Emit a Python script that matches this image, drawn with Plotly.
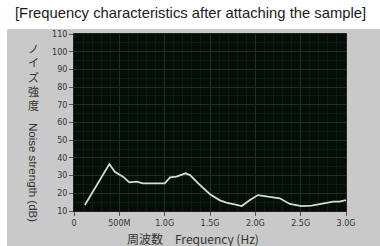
import plotly.graph_objects as go

freq_ghz = [0.12, 0.39, 0.45, 0.54, 0.61, 0.69, 0.76, 0.87, 1.00, 1.06, 1.13, 1.23, 1.28, 1.37,
            1.50, 1.61, 1.68, 1.77, 1.85, 1.94, 2.03, 2.14, 2.27, 2.38, 2.51, 2.62, 2.75, 2.86, 2.93, 3.00]
noise_db = [13.4, 36.5, 32.2, 29.4, 26.2, 26.6, 25.6, 25.6, 25.6, 29.0, 29.4, 31.3, 30.3, 25.6,
            19.5, 16.0, 14.7, 13.8, 12.8, 16.2, 19.0, 18.1, 17.2, 14.0, 12.8, 13.0, 14.3, 15.3, 15.3, 16.2]

x_tickvals = [0, 0.5, 1.0, 1.5, 2.0, 2.5, 3.0]
x_ticktext = ["0", "500M", "1.0G", "1.5G", "2.0G", "2.5G", "3.0G"]
y_tickvals = [10, 20, 30, 40, 50, 60, 70, 80, 90, 100, 110]

title_text = "[Frequency characteristics after attaching the sample]"
y_title_jp = ["ノ", "イ", "ズ", "強", "度"]
y_title_en = "Noise strength (dB)"
x_title = "周波数　Frequency (Hz)"

W, H = 380, 246
L, R, T, B = 74, 34, 34, 35
pw, ph = W - L - R, H - T - B

def px_x(p):
    return (p - L) / pw

def px_y(p):
    return (H - B - p) / ph

GRAY = "#c9c9c9"

fig = go.Figure()
fig.add_trace(go.Scatter(
    x=freq_ghz, y=noise_db, mode="lines",
    line=dict(color="#d4dcd4", width=1.8),
    hoverinfo="skip", showlegend=False,
))

annotations = [
    dict(text=title_text, xref="paper", yref="paper",
         x=px_x(190), y=px_y(13), xanchor="center", yanchor="middle",
         showarrow=False, font=dict(family="Liberation Sans", size=14.8, color="#1a1a1a")),
    dict(text=y_title_en, xref="paper", yref="paper", textangle=90,
         x=px_x(33), y=px_y(172), xanchor="center", yanchor="middle",
         showarrow=False, font=dict(family="Liberation Sans", size=11.5, color="#333333")),
    dict(text=x_title, xref="paper", yref="paper",
         x=px_x(193), y=px_y(238), xanchor="center", yanchor="middle",
         showarrow=False, font=dict(family="Noto Sans CJK JP", size=12, color="#333333")),
    dict(text="<br>".join(y_title_jp), xref="paper", yref="paper",
         x=px_x(33), y=px_y(76), xanchor="center", yanchor="middle",
         showarrow=False, font=dict(family="Noto Sans CJK JP", size=11, color="#333333")),
]

fig.update_layout(
    width=W, height=H,
    margin=dict(l=L, r=R, t=T, b=B, pad=0),
    paper_bgcolor=GRAY,
    plot_bgcolor="#040d07",
    showlegend=False,
    shapes=[
        dict(type="rect", xref="paper", yref="paper", layer="below",
             x0=px_x(-5), x1=px_x(W + 5), y0=px_y(29), y1=px_y(-5),
             fillcolor="white", line=dict(width=0)),
        dict(type="rect", xref="paper", yref="paper", layer="below",
             x0=px_x(-5), x1=px_x(7), y0=px_y(H + 5), y1=px_y(-5),
             fillcolor="white", line=dict(width=0)),
    ],
    annotations=annotations,
)

fig.update_xaxes(
    range=[0, 3], tickvals=x_tickvals, ticktext=x_ticktext,
    ticks="outside", ticklen=4, tickcolor="#555555", tickwidth=1,
    tickfont=dict(family="DejaVu Sans", size=8, color="#333333"),
    showgrid=True, gridcolor="#1a3320", gridwidth=1,
    minor=dict(dtick=0.1, showgrid=True, gridcolor="#0c1c10", gridwidth=1),
    showline=True, linecolor="#222222", linewidth=1, mirror=True,
    zeroline=False, fixedrange=True,
)
fig.update_yaxes(
    range=[10, 110], tickvals=y_tickvals,
    ticks="outside", ticklen=4, tickcolor="#555555", tickwidth=1,
    tickfont=dict(family="DejaVu Sans", size=8, color="#333333"),
    showgrid=True, gridcolor="#1a3320", gridwidth=1,
    minor=dict(dtick=5, showgrid=True, gridcolor="#0c1c10", gridwidth=1),
    showline=True, linecolor="#222222", linewidth=1, mirror=True,
    zeroline=False, fixedrange=True,
)

fig.write_html(
    "out.html",
    config=dict(displayModeBar=False),
    post_script="document.body.style.margin='0';document.body.style.padding='0';document.body.style.overflow='hidden';",
)
